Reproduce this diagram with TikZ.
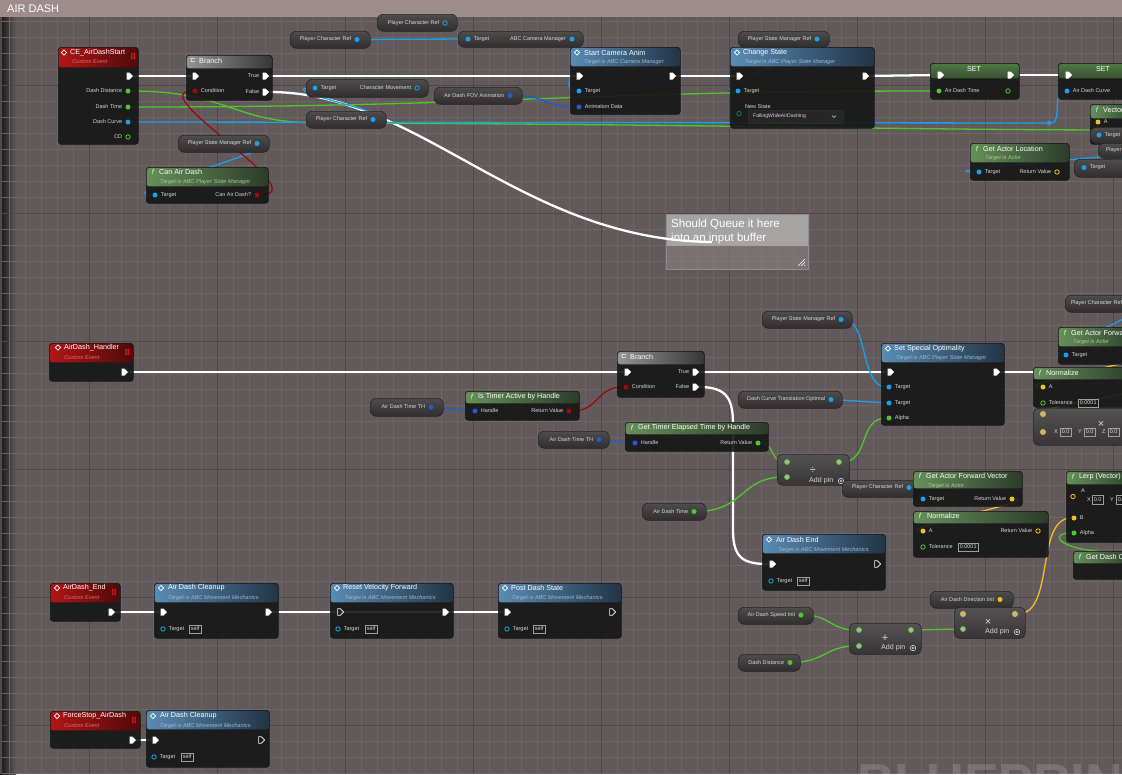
\documentclass[tikz,border=0pt]{standalone}
\usepackage{fontspec}
\setmainfont{Liberation Sans}
\newfontfamily\bpsym{DejaVu Sans}
\usetikzlibrary{shapes.geometric, shapes.symbols, positioning}

\definecolor{bgc}{HTML}{625A5A}
\definecolor{gridmin}{HTML}{6D6666}
\definecolor{gridmaj}{HTML}{4D4747}
\definecolor{band}{HTML}{9E8B8B}
\definecolor{nodebg}{HTML}{161616}
\definecolor{getA}{HTML}{4F4C4C}
\definecolor{getB}{HTML}{2F2D2D}
\definecolor{mathA}{HTML}{555252}
\definecolor{mathB}{HTML}{363434}
\definecolor{setG}{HTML}{4E7A44}
\definecolor{cobj}{HTML}{16A0EE}
\definecolor{cstruct}{HTML}{1E5CD4}
\definecolor{cfloat}{HTML}{4FC629}
\definecolor{cbool}{HTML}{9C0A0A}
\definecolor{cvec}{HTML}{F2BE26}
\definecolor{cenum}{HTML}{0E7468}
\definecolor{lbltxt}{HTML}{D6D6D6}
\definecolor{blueL}{HTML}{5A8CB4}
\definecolor{blueR}{HTML}{223446}
\definecolor{greenL}{HTML}{66905A}
\definecolor{greenR}{HTML}{2B3C29}
\definecolor{redL}{HTML}{B21616}
\definecolor{redR}{HTML}{4E0A0A}
\definecolor{greyL}{HTML}{959595}
\definecolor{greyR}{HTML}{363636}
\definecolor{subblue}{HTML}{9CB8CE}
\definecolor{subgreen}{HTML}{A6C698}
\definecolor{subred}{HTML}{DA6A6A}
\definecolor{cmtA}{HTML}{A9A6A6}
\definecolor{cmtB}{HTML}{8C8686}

\pgfdeclarelayer{grid}
\pgfdeclarelayer{wires}
\pgfsetlayers{grid,wires,main}

\tikzset{
  wh/.style 2 args={minimum width=#1pt, minimum height=#2pt},
  bpbox/.style={draw=black!90, line width=0.7pt, fill=nodebg, fill opacity=0.9, rounded corners=3pt, anchor=north west, inner sep=0pt},
  hdr/.style n args={3}{path picture={\shade[fill opacity=1, left color=#1, right color=#2] (path picture bounding box.north west) rectangle ([yshift=-#3pt]path picture bounding box.north east);}},
  sethdr/.style={path picture={\shade[fill opacity=1, top color=setG, bottom color=nodebg] (path picture bounding box.north west) rectangle ([yshift=-15pt]path picture bounding box.north east);}},
  getter/.style={draw=black!85, line width=0.6pt, top color=getA, bottom color=getB, rounded corners=6pt, anchor=north west, inner sep=0pt},
  mathbox/.style={draw=black!85, line width=0.6pt, top color=mathA, bottom color=mathB, rounded corners=5pt, anchor=north west, inner sep=0pt},
  dropbox/.style={fill=black!85, draw=black!60!gray, line width=0.5pt, rounded corners=1pt, anchor=north west, inner sep=0pt},
  cmtbox/.style={anchor=north west, inner sep=0pt, draw=black!45, line width=0.5pt, fill=cmtB, fill opacity=0.55, path picture={\fill[cmtA, fill opacity=0.95] (path picture bounding box.north west) rectangle ([yshift=-32pt]path picture bounding box.north east);}},
  cmttxt/.style={anchor=west, align=left, inner sep=0pt, font=\fontsize{11.5}{14}\selectfont, text=white},
  bandttl/.style={anchor=west, inner sep=0pt, font=\fontsize{11}{12}\selectfont, text=white},
  ttl/.style={font=\fontsize{7.2}{8}\selectfont, text=white, anchor=west, inner sep=0pt},
  subttl/.style={font=\fontsize{5.6}{6}\selectfont\itshape, anchor=west, inner sep=0pt},
  pl/.style={font=\fontsize{5.5}{6}\selectfont, text=lbltxt, inner sep=0pt, label distance=3pt},
  dp/.style={circle, fill=#1, inner sep=0pt, minimum size=5pt},
  hp/.style={circle, draw=#1, line width=0.8pt, inner sep=0pt, minimum size=4.4pt},
  wp/.style={circle, draw=#1, fill=gray!60, line width=0.8pt, inner sep=0pt, minimum size=5pt},
  xp/.style={signal, signal to=east, fill=white, inner sep=0pt, minimum width=6.5pt, minimum height=7pt},
  hxp/.style={signal, signal to=east, draw=white, line width=0.6pt, inner sep=0pt, minimum width=6pt, minimum height=6.5pt},
  ico/.style={diamond, draw=white, line width=0.8pt, inner sep=0pt, minimum size=5.5pt},
  brico/.style={inner sep=0pt, font=\bpsym\fontsize{7}{7}\selectfont, text=white},
  fic/.style={font=\fontsize{7.5}{8}\selectfont\itshape, text=white!80!green, inner sep=0pt},
  evsq/.style={rectangle, draw=red, fill=black!80, line width=0.7pt, inner sep=0pt, minimum width=3.5pt, minimum height=5pt},
  vbox/.style={draw=gray!75, line width=0.5pt, inner xsep=1.5pt, inner ysep=0pt, minimum height=8.5pt, anchor=west, font=\fontsize{5.5}{6}\selectfont, text=lbltxt},
  addtxt/.style={anchor=west, inner sep=0pt, font=\fontsize{7.1}{8}\selectfont, text=lbltxt},
  msym/.style={inner sep=0pt, font=\fontsize{11}{11}\selectfont, text=lbltxt},
  addic/.style={circle, draw=lbltxt, line width=0.6pt, inner sep=0pt, minimum size=5.5pt, path picture={\fill[lbltxt] (path picture bounding box.center) circle (1.1pt);}},
  wmark/.style={anchor=north west, inner sep=0pt, font=\fontsize{52}{52}\selectfont\bfseries, text=white, text opacity=0.15},
  ew/.style={white, line width=2.3pt},
  dw/.style={draw=#1, line width=1.3pt}
}

\begin{document}
\begin{tikzpicture}[x=1pt, y=-1pt]
\useasboundingbox (0,0) rectangle (1122,774);

\begin{pgfonlayer}{grid}
  \fill[bgc] (0,0) rectangle (1122,774);
  \shade[left color=black!75!bgc, right color=bgc] (0,17) rectangle (16,774);
  \foreach \x in {9,25,...,1122} \draw[gridmin, line width=0.6pt] (\x,17) -- (\x,774);
  \foreach \y in {21,37,...,774} \draw[gridmin, line width=0.6pt] (0,\y) -- (1122,\y);
  \foreach \x in {89,217,...,1122} \draw[gridmaj, line width=1pt] (\x,17) -- (\x,774);
  \foreach \y in {85,213,...,774} \draw[gridmaj, line width=1pt] (0,\y) -- (1122,\y);
  \draw[black!70, line width=1.5pt] (1,17) -- (1,774);
  \fill[band] (0,0) rectangle (1122,17);
  \node[bandttl] (band-t) at (7,9) {AIR DASH};
\end{pgfonlayer}

% ---- CE_AirDashStart
\node[bpbox, wh={80}{97}, hdr={redL}{redR}{20}] (start) at (58,47) {};
\node[ico] (start-i) at (64,52.5) {};
\node[ttl] (start-n) at (70,52.5) {CE\_AirDashStart};
\node[subttl, text=subred] (start-s) at (72,62) {Custom Event};
\node[evsq] (start-q) at (133,56) {};
\node[xp] (start-x) at (128,76) {};
\node[dp=cfloat, label={[pl]left:Dash Distance}] (start-dd) at (128,91) {};
\node[dp=cfloat, label={[pl]left:Dash Time}] (start-dt) at (128,107) {};
\node[dp=cobj, label={[pl]left:Dash Curve}] (start-dc) at (128,122) {};
\node[hp=cfloat, label={[pl]left:CD}] (start-cd) at (128,137) {};

% ---- Branch
\node[bpbox, wh={86}{45}, hdr={greyL}{greyR}{13}] (br1) at (186,55) {};
\node[brico] (br1-i) at (193,60.5) {⊏};
\node[ttl] (br1-n) at (199,60.5) {Branch};
\node[xp] (br1-x) at (194,76) {};
\node[dp=cbool, label={[pl]right:Condition}] (br1-c) at (195,91) {};
\node[xp, label={[pl]left:True}] (br1-tr) at (264,76) {};
\node[xp, label={[pl]left:False}] (br1-f) at (264,92) {};

% ---- getters, top row
\node[getter, wh={80}{17}] (pcr1) at (290,31) {};
\node[dp=cobj, label={[pl]left:Player Character Ref}] (pcr1-o) at (357,39.5) {};
\node[getter, wh={80}{17}] (pcr2) at (377,14) {};
\node[hp=cobj, label={[pl]left:Player Character Ref}] (pcr2-o) at (445,23) {};
\node[getter, wh={125}{16}] (cam) at (458,31) {};
\node[dp=cobj, label={[pl]right:Target}] (cam-t) at (468,39) {};
\node[pl, anchor=west] (cam-l) at (510,39) {ABC Camera Manager};
\node[dp=cobj] (cam-o) at (572,39) {};

% ---- Start Camera Anim
\node[bpbox, wh={110}{67}, hdr={blueL}{blueR}{19}] (sca) at (570,47) {};
\node[ico] (sca-i) at (577,52.5) {};
\node[ttl] (sca-n) at (584,52.5) {Start Camera Anim};
\node[subttl, text=subblue] (sca-s) at (584,62) {Target is ABC Camera Manager};
\node[xp] (sca-x) at (578,76) {};
\node[xp] (sca-o) at (671,76) {};
\node[dp=cobj, label={[pl]right:Target}] (sca-t) at (579,91) {};
\node[dp=cstruct, label={[pl]right:Animation Data}] (sca-a) at (579,107) {};

\node[getter, wh={122}{18}] (cmv) at (306,79) {};
\node[dp=cobj, label={[pl]right:Target}] (cmv-t) at (315,88) {};
\node[hp=cobj, label={[pl]left:Character Movement}] (cmv-o) at (417,88) {};
\node[getter, wh={88}{17}] (fov) at (434,87) {};
\node[dp=cstruct, label={[pl]left:Air Dash FOV Animation}] (fov-o) at (510,95.5) {};
\node[getter, wh={80}{17}] (pcr3) at (306,111) {};
\node[dp=cobj, label={[pl]left:Player Character Ref}] (pcr3-o) at (373,119.5) {};
\node[getter, wh={91}{17}] (psm1) at (178,135) {};
\node[dp=cobj, label={[pl]left:Player State Manager Ref}] (psm1-o) at (257,143.5) {};

% ---- Can Air Dash
\node[bpbox, wh={122}{36}, hdr={greenL}{greenR}{19}] (cad) at (146,167) {};
\node[fic] (cad-i) at (153,172) {f};
\node[ttl] (cad-n) at (159,172) {Can Air Dash};
\node[subttl, text=subgreen] (cad-s) at (160,182) {Target is ABC Player State Manager};
\node[dp=cobj, label={[pl]right:Target}] (cad-t) at (155,195) {};
\node[dp=cbool, label={[pl]left:Can Air Dash?}] (cad-r) at (257,195) {};

% ---- Change State
\node[getter, wh={91}{16}] (psm2) at (738,31) {};
\node[dp=cobj, label={[pl]left:Player State Manager Ref}] (psm2-o) at (817,39) {};
\node[bpbox, wh={144}{81}, hdr={blueL}{blueR}{19}] (chs) at (730,47) {};
\node[ico] (chs-i) at (737,52.5) {};
\node[ttl] (chs-n) at (743,52.5) {Change State};
\node[subttl, text=subblue] (chs-s) at (745,62) {Target is ABC Player State Manager};
\node[xp] (chs-x) at (738,76) {};
\node[xp] (chs-o) at (864,76) {};
\node[dp=cobj, label={[pl]right:Target}] (chs-t) at (738,91) {};
\node[pl, anchor=west] (chs-l) at (745,107) {New State};
\node[hp=cenum] (chs-e) at (739,113.5) {};
\node[dropbox, wh={95}{13}] (chs-d) at (748,110) {};
\node[pl, anchor=west, font=\fontsize{5.1}{6}\selectfont] (chs-v) at (753,116.5) {FallingWhileAirDashing};
\draw[lbltxt, line width=0.6pt] (832,115.5) -- (834,117.5) -- (836,115.5);

% ---- SET nodes
\node[bpbox, wh={89}{36}, sethdr] (set1) at (930,63) {};
\node[ttl, anchor=center, text=white!80] (set1-n) at (974,69) {SET};
\node[xp] (set1-x) at (939,75) {};
\node[xp] (set1-o) at (1009,75) {};
\node[dp=cfloat, label={[pl]right:Air Dash Time}] (set1-t) at (939,91) {};
\node[hp=cfloat] (set1-r) at (1008,91) {};
\node[bpbox, wh={80}{36}, sethdr] (set2) at (1058,63) {};
\node[ttl, anchor=center, text=white!80] (set2-n) at (1103,69) {SET};
\node[xp] (set2-x) at (1067,75) {};
\node[dp=cobj, label={[pl]right:Air Dash Curve}] (set2-c) at (1067,91) {};
\node[dp=cobj, minimum size=4.5pt] (dcknot) at (1049,123) {};

% ---- right edge, top
\node[bpbox, wh={50}{40}, hdr={greenL}{greenR}{14}] (vec) at (1090,104) {};
\node[fic] (vec-i) at (1097,110) {f};
\node[ttl] (vec-n) at (1103,110) {Vector};
\node[dp=cvec, label={[pl]right:A}] (vec-a) at (1098,122) {};
\node[getter, wh={40}{16}] (tgt1) at (1090,127) {};
\node[dp=cobj, label={[pl]right:Target}] (tgt1-t) at (1099,135) {};
\node[getter, wh={80}{15}] (pcr4) at (1098,143) {};
\node[dp=cobj, label={[pl]left:Player Character Ref}] (pcr4-o) at (1163,150.5) {};
\node[getter, wh={60}{18}] (tgt2) at (1074,159) {};
\node[dp=cobj, label={[pl]right:Target}] (tgt2-t) at (1084,167.5) {};
\node[bpbox, wh={99}{37}, hdr={greenL}{greenR}{19}] (gal) at (970,143) {};
\node[fic] (gal-i) at (977,148.5) {f};
\node[ttl] (gal-n) at (983,148.5) {Get Actor Location};
\node[subttl, text=subgreen] (gal-s) at (985,158) {Target is Actor};
\node[dp=cobj, label={[pl]right:Target}] (gal-t) at (979,172) {};
\node[hp=cvec, label={[pl]left:Return Value}] (gal-r) at (1057,172) {};

% ---- AirDash_Handler
\node[bpbox, wh={84}{38}, hdr={redL}{redR}{19}] (hnd) at (49,343) {};
\node[ico] (hnd-i) at (58,347.5) {};
\node[ttl] (hnd-n) at (64,347.5) {AirDash\_Handler};
\node[subttl, text=subred] (hnd-s) at (64,357.5) {Custom Event};
\node[evsq] (hnd-q) at (127,352) {};
\node[xp] (hnd-x) at (123,372) {};

\node[bpbox, wh={87}{46}, hdr={greyL}{greyR}{13}] (br2) at (617,351) {};
\node[brico] (br2-i) at (624,356.5) {⊏};
\node[ttl] (br2-n) at (630,356.5) {Branch};
\node[xp] (br2-x) at (626,372) {};
\node[dp=cbool, label={[pl]right:Condition}] (br2-c) at (626,387) {};
\node[xp, label={[pl]left:True}] (br2-tr) at (694,372) {};
\node[xp, label={[pl]left:False}] (br2-f) at (694,387) {};

\node[getter, wh={73}{18}] (tth1) at (370,398) {};
\node[dp=cstruct, label={[pl]left:Air Dash Time TH}] (tth1-o) at (431,407) {};
\node[bpbox, wh={114}{29}, hdr={greenL}{greenR}{12}] (ita) at (465,391) {};
\node[fic] (ita-i) at (472,396.5) {f};
\node[ttl] (ita-n) at (478,396.5) {Is Timer Active by Handle};
\node[dp=cstruct, label={[pl]right:Handle}] (ita-h) at (475,411) {};
\node[dp=cbool, label={[pl]left:Return Value}] (ita-r) at (569,411) {};
\node[getter, wh={71}{17}] (tth2) at (538,431) {};
\node[dp=cstruct, label={[pl]left:Air Dash Time TH}] (tth2-o) at (599,439.5) {};
\node[bpbox, wh={143}{29}, hdr={greenL}{greenR}{12}] (gte) at (625,422) {};
\node[fic] (gte-i) at (632,427.5) {f};
\node[ttl] (gte-n) at (638,427.5) {Get Timer Elapsed Time by Handle};
\node[dp=cstruct, label={[pl]right:Handle}] (gte-h) at (635,443) {};
\node[dp=cfloat, label={[pl]left:Return Value}] (gte-r) at (758,443) {};

% ---- Set Special Optimality
\node[getter, wh={90}{17}] (psm3) at (762,311) {};
\node[dp=cobj, label={[pl]left:Player State Manager Ref}] (psm3-o) at (841,319.5) {};
\node[getter, wh={104}{17}] (dct) at (738,391) {};
\node[dp=cobj, label={[pl]left:Dash Curve Translation Optimal}] (dct-o) at (831,399.5) {};
\node[bpbox, wh={123}{82}, hdr={blueL}{blueR}{19}] (sso) at (881,343) {};
\node[ico] (sso-i) at (888,348.5) {};
\node[ttl] (sso-n) at (894,348.5) {Set Special Optimality};
\node[subttl, text=subblue] (sso-s) at (896,358) {Target is ABC Player State Manager};
\node[xp] (sso-x) at (889,372) {};
\node[xp] (sso-o) at (995,372) {};
\node[dp=cobj, label={[pl]right:Target}] (sso-t1) at (889,387) {};
\node[dp=cobj, label={[pl]right:Target}] (sso-t2) at (889,403) {};
\node[dp=cfloat, label={[pl]right:Alpha}] (sso-al) at (889,418) {};

% ---- right edge, middle
\node[getter, wh={80}{17}] (pcr5) at (1065,295) {};
\node[dp=cobj, label={[pl]left:Player Character Ref}] (pcr5-o) at (1128,303.5) {};
\node[bpbox, wh={80}{37}, hdr={greenL}{greenR}{19}] (gaf1) at (1058,327) {};
\node[fic] (gaf1-i) at (1065,332.5) {f};
\node[ttl] (gaf1-n) at (1071,332.5) {Get Actor Forward Vector};
\node[subttl, text=subgreen] (gaf1-s) at (1073,342) {Target is Actor};
\node[dp=cobj, label={[pl]right:Target}] (gaf1-t) at (1066,355) {};
\node[bpbox, wh={100}{40}, hdr={greenL}{greenR}{12}] (nrm1) at (1033,367) {};
\node[fic] (nrm1-i) at (1040,372.5) {f};
\node[ttl] (nrm1-n) at (1046,372.5) {Normalize};
\node[dp=cvec, label={[pl]right:A}] (nrm1-a) at (1043,387) {};
\node[hp=cfloat, label={[pl]right:Tolerance}] (nrm1-tol) at (1043,403) {};
\node[vbox] (nrm1-v) at (1078,403) {0.0001};
\node[mathbox, wh={100}{37}] (mkv) at (1033,408) {};
\node[wp=cvec] (mkv-a) at (1043,414) {};
\node[wp=cvec] (mkv-b) at (1043,432) {};
\node[msym] (mkv-m) at (1101,424) {×};
\node[pl, anchor=west] (mkv-xl) at (1054,432) {X};
\node[vbox] (mkv-xv) at (1060,432) {0.0};
\node[pl, anchor=west] (mkv-yl) at (1078,432) {Y};
\node[vbox] (mkv-yv) at (1084,432) {0.0};
\node[pl, anchor=west] (mkv-zl) at (1102,432) {Z};
\node[vbox] (mkv-zv) at (1108,432) {0.0};

% ---- divide / forward vector / lerp
\node[mathbox, wh={72}{31}] (div) at (777,454) {};
\node[wp=cfloat] (div-a) at (787,462) {};
\node[wp=cfloat] (div-b) at (787,477) {};
\node[wp=cfloat] (div-o) at (839,462) {};
\node[msym] (div-m) at (813,470) {÷};
\node[addtxt] (div-p) at (809,481) {Add pin};
\node[addic] (div-c) at (841,481) {};
\node[getter, wh={64}{17}] (adt) at (642,503) {};
\node[dp=cfloat, label={[pl]left:Air Dash Time}] (adt-o) at (694,511.5) {};
\node[getter, wh={78}{17}] (pcr6) at (842,480) {};
\node[dp=cobj, label={[pl]left:Player Character Ref}] (pcr6-o) at (909,487.5) {};
\node[bpbox, wh={109}{35}, hdr={greenL}{greenR}{17}] (gafv) at (913,471) {};
\node[fic] (gafv-i) at (920,476) {f};
\node[ttl] (gafv-n) at (926,476) {Get Actor Forward Vector};
\node[subttl, text=subgreen] (gafv-s) at (928,486) {Target is Actor};
\node[dp=cobj, label={[pl]right:Target}] (gafv-t) at (923,499) {};
\node[dp=cvec, label={[pl]left:Return Value}] (gafv-r) at (1012,499) {};
\node[bpbox, wh={135}{46}, hdr={greenL}{greenR}{12}] (nrm2) at (913,511) {};
\node[fic] (nrm2-i) at (920,516) {f};
\node[ttl] (nrm2-n) at (927,516) {Normalize};
\node[dp=cvec, label={[pl]right:A}] (nrm2-a) at (923,531) {};
\node[hp=cvec, label={[pl]left:Return Value}] (nrm2-r) at (1038,531) {};
\node[hp=cfloat, label={[pl]right:Tolerance}] (nrm2-tol) at (923,547) {};
\node[vbox] (nrm2-v) at (958,547) {0.0001};
\node[bpbox, wh={70}{71}, hdr={greenL}{greenR}{13}] (lerp) at (1066,471) {};
\node[fic] (lerp-i) at (1073,476.5) {f};
\node[ttl] (lerp-n) at (1079,476.5) {Lerp (Vector)};
\node[hp=cvec] (lerp-a) at (1073,496.5) {};
\node[pl, anchor=west] (lerp-la) at (1081,491) {A};
\node[pl, anchor=west] (lerp-xl) at (1087,499.5) {X};
\node[vbox] (lerp-xv) at (1092,499.5) {0.0};
\node[pl, anchor=west] (lerp-yl) at (1110,499.5) {Y};
\node[vbox] (lerp-yv) at (1116,499.5) {0.0};
\node[dp=cvec, label={[pl]right:B}] (lerp-b) at (1074,518) {};
\node[dp=cfloat, label={[pl]right:Alpha}] (lerp-al) at (1074,533) {};
\node[bpbox, wh={60}{28}, hdr={greenL}{greenR}{12}] (gdc) at (1073,551) {};
\node[fic] (gdc-i) at (1080,556.5) {f};
\node[ttl] (gdc-n) at (1086,556.5) {Get Dash Curve};

% ---- Air Dash End
\node[bpbox, wh={123}{56}, hdr={blueL}{blueR}{19}] (ade) at (762,534) {};
\node[ico] (ade-i) at (769,539.5) {};
\node[ttl] (ade-n) at (776,539.5) {Air Dash End};
\node[subttl, text=subblue] (ade-s) at (778,550) {Target is ABC Movement Mechanics};
\node[xp] (ade-x) at (771,564) {};
\node[hxp] (ade-o) at (876,564) {};
\node[hp=cobj, label={[pl]right:Target}] (ade-t) at (771,581) {};
\node[vbox] (ade-v) at (797,581) {self};

% ---- direction * (speed + distance)
\node[getter, wh={83}{17}] (ddi) at (930,591) {};
\node[dp=cvec, label={[pl]left:Air Dash Direction Init}] (ddi-o) at (1000,599.5) {};
\node[mathbox, wh={71}{31}] (mul) at (954,607) {};
\node[wp=cvec] (mul-a) at (963,614) {};
\node[wp=cfloat] (mul-b) at (963,629) {};
\node[wp=cvec] (mul-o) at (1015,614) {};
\node[msym] (mul-m) at (988,622) {×};
\node[addtxt] (mul-p) at (985,632) {Add pin};
\node[addic] (mul-c) at (1017,632) {};
\node[getter, wh={75}{17}] (asi) at (738,607) {};
\node[dp=cfloat, label={[pl]left:Air Dash Speed Init}] (asi-o) at (801,615) {};
\node[mathbox, wh={72}{31}] (add) at (849,623) {};
\node[wp=cfloat] (add-a) at (859,630) {};
\node[wp=cfloat] (add-b) at (859,646) {};
\node[wp=cfloat] (add-o) at (911,630) {};
\node[msym] (add-m) at (885,638) {+};
\node[addtxt] (add-p) at (881,648) {Add pin};
\node[addic] (add-c) at (913,648) {};
\node[getter, wh={62}{17}] (dd2) at (738,654) {};
\node[dp=cfloat, label={[pl]left:Dash Distance}] (dd2-o) at (790,662.5) {};

% ---- AirDash_End chain
\node[bpbox, wh={70}{38}, hdr={redL}{redR}{19}] (aen) at (50,583) {};
\node[ico] (aen-i) at (57,588) {};
\node[ttl] (aen-n) at (63,588) {AirDash\_End};
\node[subttl, text=subred] (aen-s) at (64,598) {Custom Event};
\node[evsq] (aen-q) at (114,592) {};
\node[xp] (aen-x) at (110,612) {};
\node[bpbox, wh={124}{55}, hdr={blueL}{blueR}{19}] (adc1) at (154,583) {};
\node[ico] (adc1-i) at (161,588) {};
\node[ttl] (adc1-n) at (168,588) {Air Dash Cleanup};
\node[subttl, text=subblue] (adc1-s) at (168,598) {Target is ABC Movement Mechanics};
\node[xp] (adc1-x) at (162,612) {};
\node[xp] (adc1-o) at (267,612) {};
\node[hp=cobj, label={[pl]right:Target}] (adc1-t) at (163,629) {};
\node[vbox] (adc1-v) at (189,629) {self};
\node[bpbox, wh={123}{55}, hdr={blueL}{blueR}{19}] (rvf) at (330,583) {};
\node[ico] (rvf-i) at (337,588) {};
\node[ttl] (rvf-n) at (343,588) {Reset Velocity Forward};
\node[subttl, text=subblue] (rvf-s) at (345,598) {Target is ABC Movement Mechanics};
\node[hxp] (rvf-x) at (339,612) {};
\node[xp] (rvf-o) at (444,612) {};
\node[hp=cobj, label={[pl]right:Target}] (rvf-t) at (338,629) {};
\node[vbox] (rvf-v) at (365,629) {self};
\node[bpbox, wh={123}{55}, hdr={blueL}{blueR}{19}] (pds) at (498,583) {};
\node[ico] (pds-i) at (505,588) {};
\node[ttl] (pds-n) at (511,588) {Post Dash State};
\node[subttl, text=subblue] (pds-s) at (512,598) {Target is ABC Movement Mechanics};
\node[xp] (pds-x) at (506,612) {};
\node[hxp] (pds-o) at (611,612) {};
\node[hp=cobj, label={[pl]right:Target}] (pds-t) at (507,629) {};
\node[vbox] (pds-v) at (533,629) {self};

% ---- ForceStop_AirDash
\node[bpbox, wh={90}{37}, hdr={redL}{redR}{19}] (fsa) at (50,711) {};
\node[ico] (fsa-i) at (57,716) {};
\node[ttl] (fsa-n) at (63,716) {ForceStop\_AirDash};
\node[subttl, text=subred] (fsa-s) at (64,726) {Custom Event};
\node[evsq] (fsa-q) at (134,720) {};
\node[xp] (fsa-x) at (131,740) {};
\node[bpbox, wh={123}{57}, hdr={blueL}{blueR}{19}] (adc2) at (146,710) {};
\node[ico] (adc2-i) at (153,716) {};
\node[ttl] (adc2-n) at (160,716) {Air Dash Cleanup};
\node[subttl, text=subblue] (adc2-s) at (160,726) {Target is ABC Movement Mechanics};
\node[xp] (adc2-x) at (154,740) {};
\node[hxp] (adc2-o) at (260,740) {};
\node[hp=cobj, label={[pl]right:Target}] (adc2-t) at (154,757) {};
\node[vbox] (adc2-v) at (181,757) {self};

\node[wmark] (wm) at (857,765) {BLUEPRINT};

% ---- wires (under the nodes)
\begin{pgfonlayer}{wires}
  \node[cmtbox, wh={142}{55}] (cmt) at (666,214) {};
  \node[cmttxt] (cmt-n) at (671,232) {Should Queue it here\\into an input buffer};
  \draw[white!75, line width=0.4pt] (805,259) -- (798,266) (805,262) -- (801,266) (805,265) -- (804,266);
  \coordinate (qend) at (712,242);
  \coordinate (ssoend) at (1045,372);
  \coordinate (ddend) at (1130,130);
  \coordinate (gaf1end) at (1150,355);
  \coordinate (nrm1end) at (1150,387);
  \coordinate (gdcend) at (1135,552);

  \draw[ew] (start-x) -- (br1-x);
  \draw[ew] (br1-tr) -- (sca-x);
  \draw[ew] (sca-o) -- (chs-x);
  \draw[ew] (chs-o) -- (set1-x);
  \draw[ew] (set1-o) -- (set2-x);
  \draw[ew] (br1-f) .. controls (420,92) and (520,240) .. (qend);
  \draw[ew] (hnd-x) -- (br2-x);
  \draw[ew] (br2-tr) -- (sso-x);
  \draw[ew] (sso-o) -- (ssoend);
  \draw[ew] (br2-f) .. controls (728,387) and (733,400) .. (733,425) -- (733,530) .. controls (733,560) and (745,564) .. (ade-x);
  \draw[ew] (aen-x) -- (adc1-x);
  \draw[ew] (adc1-o) -- (pds-x);
  \draw[ew] (fsa-x) -- (adc2-x);

  \draw[dw=cfloat] (start-dt) .. controls (500,107) and (560,91) .. (set1-t);
  \draw[dw=cfloat] (start-dd) .. controls (230,91) and (230,123) .. (320,123) .. controls (700,124) and (900,130) .. (ddend);
  \draw[dw=cobj] (start-dc) -- (dcknot);
  \draw[dw=cobj] (dcknot) .. controls (1062,123) and (1052,91) .. (set2-c);
  \draw[dw=cobj] (pcr1-o) -- (cam-t);
  \draw[dw=cobj] (cam-o) .. controls (598,39) and (552,91) .. (sca-t);
  \draw[dw=cstruct] (fov-o) .. controls (545,95) and (545,107) .. (sca-a);
  \draw[dw=cobj] (pcr3-o) .. controls (420,119) and (265,88) .. (cmv-t);
  \draw[dw=cobj] (psm1-o) .. controls (300,144) and (105,195) .. (cad-t);
  \draw[dw=cbool] (cad-r) .. controls (320,195) and (140,91) .. (br1-c);
  \draw[dw=cobj] (psm2-o) .. controls (850,39) and (700,91) .. (chs-t);
  \draw[dw=cobj] (pcr4-o) .. controls (1190,150) and (910,172) .. (gal-t);
  \draw[dw=cobj] (pcr4-o) .. controls (1190,150) and (1055,167) .. (tgt2-t);
  \draw[dw=cobj] (pcr4-o) .. controls (1190,150) and (1065,135) .. (tgt1-t);

  \draw[dw=cstruct] (tth1-o) -- (ita-h);
  \draw[dw=cbool] (ita-r) .. controls (600,411) and (595,387) .. (br2-c);
  \draw[dw=cstruct] (tth2-o) -- (gte-h);
  \draw[dw=cfloat] (gte-r) .. controls (775,443) and (770,462) .. (div-a);
  \draw[dw=cfloat] (adt-o) .. controls (745,511) and (740,477) .. (div-b);
  \draw[dw=cfloat] (div-o) .. controls (870,462) and (858,418) .. (sso-al);
  \draw[dw=cobj] (psm3-o) .. controls (868,319) and (860,387) .. (sso-t1);
  \draw[dw=cobj] (dct-o) -- (sso-t2);
  \draw[dw=cobj] (pcr5-o) .. controls (1180,303) and (1030,355) .. (gaf1-t);
  \draw[dw=cvec] (gaf1end) .. controls (1170,355) and (1005,387) .. (nrm1-a);
  \draw[dw=cvec] (nrm1end) .. controls (1170,387) and (1005,414) .. (mkv-a);
  \draw[dw=cobj] (pcr6-o) -- (gafv-t);
  \draw[dw=cvec] (gafv-r) .. controls (1045,499) and (890,531) .. (nrm2-a);
  \draw[dw=cvec] (ddi-o) .. controls (1030,599) and (935,614) .. (mul-a);
  \draw[dw=cfloat] (asi-o) .. controls (830,615) and (830,630) .. (add-a);
  \draw[dw=cfloat] (dd2-o) .. controls (825,662) and (825,646) .. (add-b);
  \draw[dw=cfloat] (add-o) -- (mul-b);
  \draw[dw=cvec] (mul-o) .. controls (1055,614) and (1035,518) .. (lerp-b);
  \draw[dw=cfloat] (gdcend) .. controls (1060,555) and (1045,533) .. (lerp-al);
\end{pgfonlayer}
\end{tikzpicture}
\end{document}
